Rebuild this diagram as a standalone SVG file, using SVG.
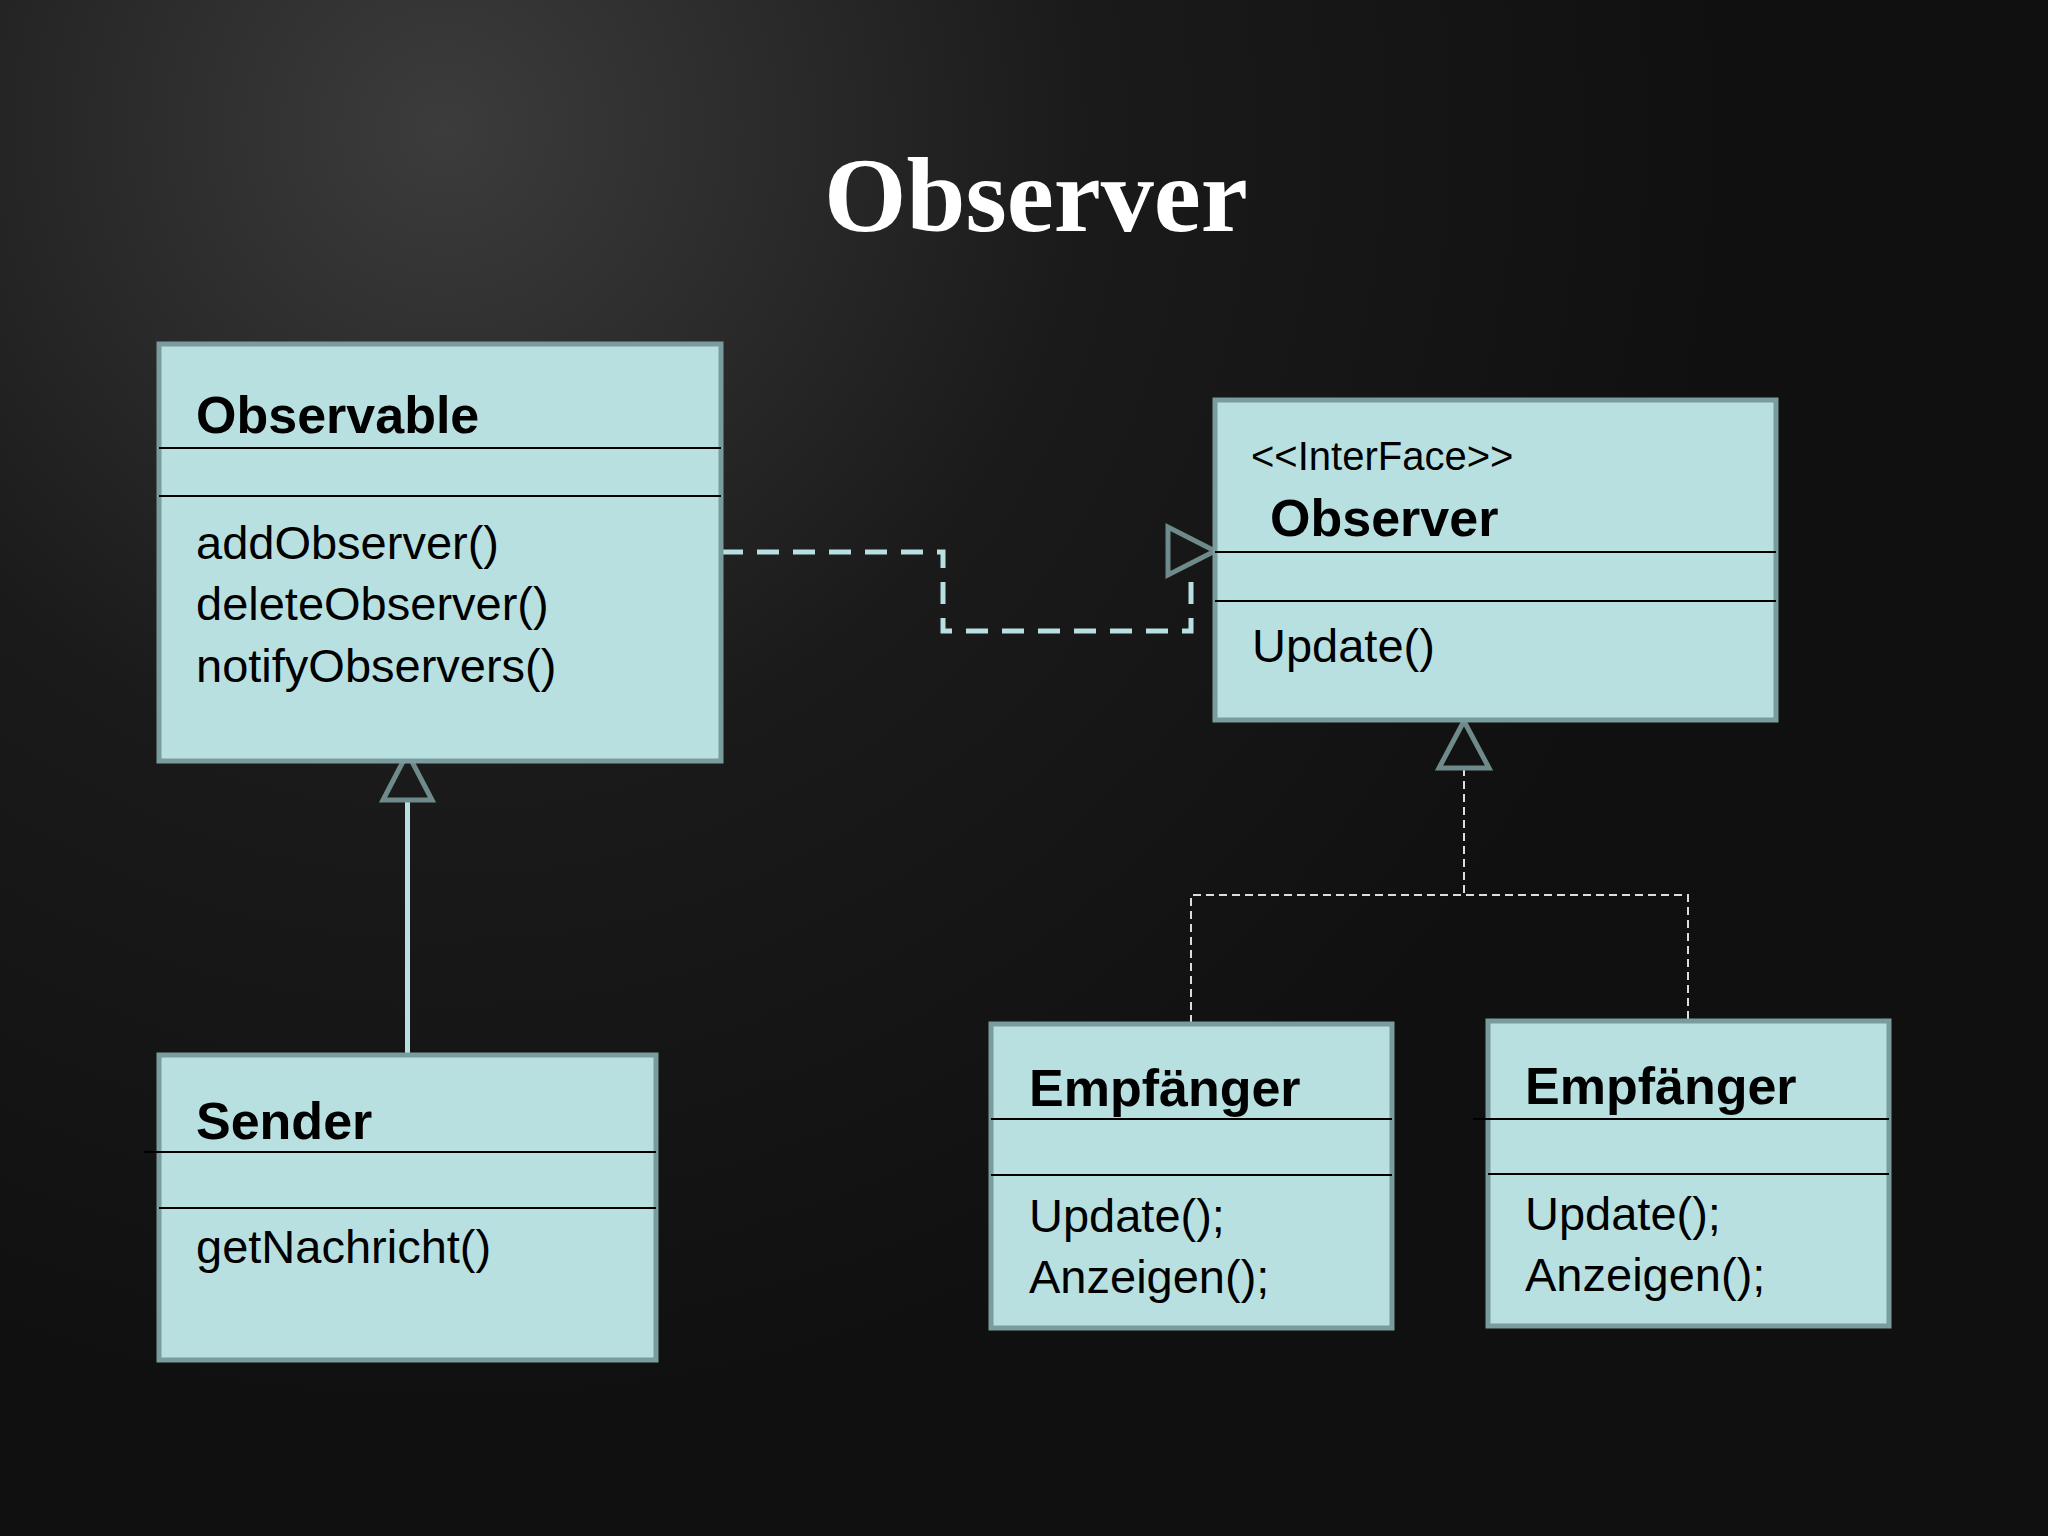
<svg xmlns="http://www.w3.org/2000/svg" width="2048" height="1536" viewBox="0 0 2048 1536">
<defs>
<radialGradient id="bg" cx="444" cy="130" r="1300" gradientUnits="userSpaceOnUse">
<stop offset="0" stop-color="#3c3c3c"/><stop offset="0.5" stop-color="#1a1a1a"/><stop offset="1" stop-color="#101010"/>
</radialGradient>
<style>
.box{fill:#b9e0e1;stroke:#7a9c9c;stroke-width:5}
.sep{stroke:#000;stroke-width:2}
.t{font-family:"Liberation Sans",Arial,sans-serif;font-weight:bold;font-size:52px;fill:#000}
.m{font-family:"Liberation Sans",Arial,sans-serif;font-size:47px;fill:#000}
.s{font-family:"Liberation Sans",Arial,sans-serif;font-size:40px;fill:#000}
.tri{fill:none;stroke:#6f8a8a;stroke-width:5}
</style>
</defs>
<rect width="2048" height="1536" fill="url(#bg)"/>
<text x="1036" y="231" text-anchor="middle" font-family="Liberation Serif,serif" font-weight="bold" font-size="106" fill="#fff">Observer</text>
<g id="connectors">
<path d="M721 552 H943 V631 H1191 V575" fill="none" stroke="#b9e0e1" stroke-width="5" stroke-dasharray="22 14"/>
<polygon class="tri" points="1215,551 1168,527 1168,575"/>
<line x1="407.5" y1="1055" x2="407.5" y2="800" stroke="#b9e0e1" stroke-width="5"/>
<polygon class="tri" points="407.5,753 383,800 432,800"/>
<path d="M1464 768 V895 M1191 1023 V895 H1688 V1023" fill="none" stroke="#ddd" stroke-width="2" stroke-dasharray="8 5"/>
<polygon class="tri" points="1464,721 1439,768 1489,768"/>
</g>
<g id="observable">
<rect class="box" x="159" y="344" width="562" height="417"/>
<line class="sep" x1="159" y1="448" x2="721" y2="448"/><line class="sep" x1="159" y1="496" x2="721" y2="496"/>
<text class="t" x="196" y="433">Observable</text>
<text class="m" x="196" y="559">addObserver()</text>
<text class="m" x="196" y="620">deleteObserver()</text>
<text class="m" x="196" y="682">notifyObservers()</text>
</g>
<g id="observer">
<rect class="box" x="1215" y="400" width="561" height="320"/>
<line class="sep" x1="1215" y1="552" x2="1776" y2="552"/><line class="sep" x1="1215" y1="601" x2="1776" y2="601"/>
<text class="s" x="1251" y="470">&lt;&lt;InterFace&gt;&gt;</text>
<text class="t" x="1270" y="536">Observer</text>
<text class="m" x="1252" y="662">Update()</text>
</g>
<g id="sender">
<rect class="box" x="159" y="1055" width="497" height="305"/>
<line class="sep" x1="144" y1="1152" x2="656" y2="1152"/><line class="sep" x1="159" y1="1208" x2="656" y2="1208"/>
<text class="t" x="196" y="1139">Sender</text>
<text class="m" x="196" y="1263">getNachricht()</text>
</g>
<g id="empfaenger1">
<rect class="box" x="991" y="1024" width="401" height="304"/>
<line class="sep" x1="991" y1="1119" x2="1392" y2="1119"/><line class="sep" x1="991" y1="1175" x2="1392" y2="1175"/>
<text class="t" x="1029" y="1106">Empfänger</text>
<text class="m" x="1029" y="1232">Update();</text>
<text class="m" x="1029" y="1293">Anzeigen();</text>
</g>
<g id="empfaenger2">
<rect class="box" x="1488" y="1021" width="401" height="305"/>
<line class="sep" x1="1473" y1="1119" x2="1889" y2="1119"/><line class="sep" x1="1488" y1="1174" x2="1889" y2="1174"/>
<text class="t" x="1525" y="1104">Empfänger</text>
<text class="m" x="1525" y="1230">Update();</text>
<text class="m" x="1525" y="1291">Anzeigen();</text>
</g>
</svg>
